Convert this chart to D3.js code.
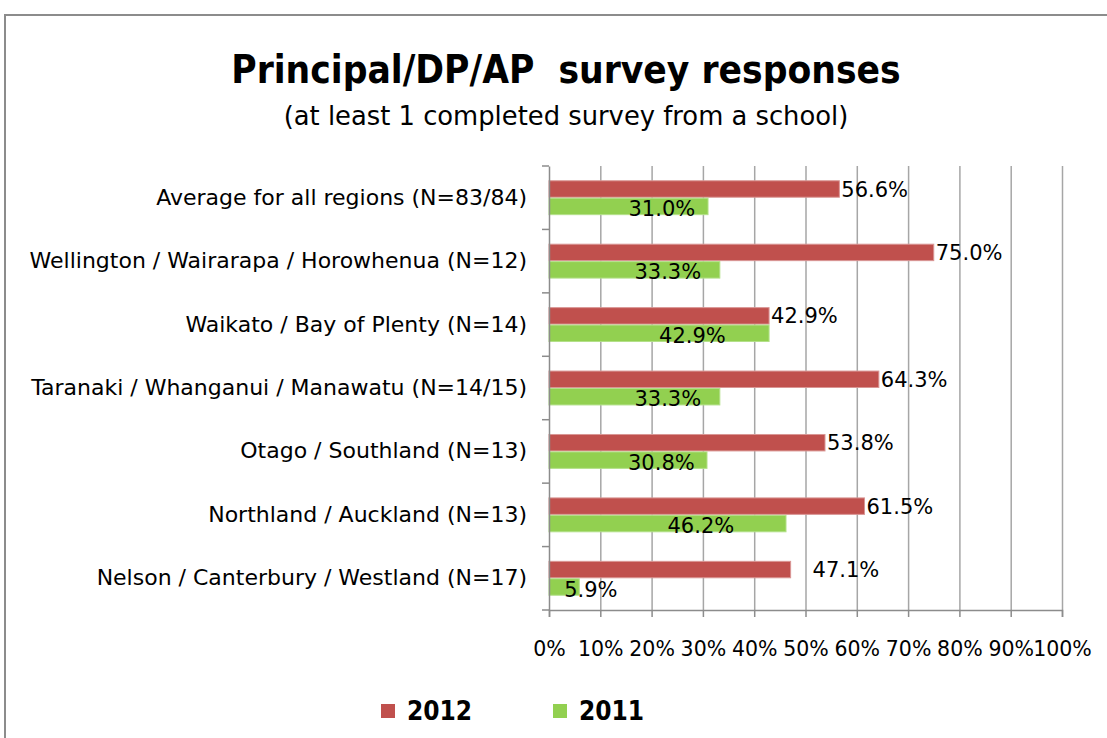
<!DOCTYPE html>
<html>
<head>
<meta charset="utf-8">
<script src="https://cdn.jsdelivr.net/npm/d3@7"></script>
<style>
  body { margin: 0; background: #fff; }
  text { font-family: "DejaVu Sans", sans-serif; fill: #000; }
</style>
</head>
<body>
<div id="chart"></div>
<script>
var categories = [
  "Average for all regions (N=83/84)",
  "Wellington / Wairarapa / Horowhenua (N=12)",
  "Waikato / Bay of Plenty (N=14)",
  "Taranaki / Whanganui / Manawatu (N=14/15)",
  "Otago / Southland (N=13)",
  "Northland / Auckland (N=13)",
  "Nelson / Canterbury / Westland (N=17)"
];
var values2012 = [56.6, 75.0, 42.9, 64.3, 53.8, 61.5, 47.1];
var values2011 = [31.0, 33.3, 42.9, 33.3, 30.8, 46.2, 5.9];
var seriesNames = ["2012", "2011"];
var xTicks = [0, 10, 20, 30, 40, 50, 60, 70, 80, 90, 100];

var colors = { "2012": "#c0504d", "2011": "#92d050" };
var strokes = { "2012": "#d99694", "2011": "#b3e089" };

var width = 1107;
var height = 738;

var margin = {
  top: 166,
  left: 549,
  right: 45,
  bottom: 128
};

var svg = d3.select('#chart')
  .append('svg')
  .attr('width', width)
  .attr('height', height);

// chart frame
svg.append('path')
  .attr('d', 'M5,' + height + 'V15H' + width)
  .attr('fill', 'none')
  .attr('stroke', '#8c8c8c')
  .attr('stroke-width', 2);

svg.append('text')
  .attr('x', 566)
  .attr('y', 83)
  .attr('text-anchor', 'middle')
  .style('white-space', 'pre')
  .style('font-family', '"DejaVu Sans Condensed", "DejaVu Sans", sans-serif')
  .style('font-size', '38.5px')
  .style('font-weight', 'bold')
  .text('Principal/DP/AP  survey responses');

svg.append('text')
  .attr('x', 566)
  .attr('y', 125)
  .attr('text-anchor', 'middle')
  .style('font-size', '25.8px')
  .text('(at least 1 completed survey from a school)');

var w = width - margin.left - margin.right;
var h = height - margin.top - margin.bottom;

var g = svg.append('g')
  .attr('transform', 'translate(' + margin.left + ',' + margin.top + ')');

var x = d3.scaleLinear()
  .domain([0, 100])
  .range([0, w]);

var y = d3.scaleBand()
  .domain(categories)
  .range([0, h])
  .paddingInner(0.45)
  .paddingOuter(0.225);

var ySeries = d3.scaleBand()
  .domain(seriesNames)
  .range([0, y.bandwidth()]);

var step = y.step();

// vertical gridlines
g.append('g')
  .attr('class', 'grid')
  .call(d3.axisBottom(x)
    .tickValues(xTicks.slice(1))
    .tickSize(h)
    .tickFormat(''))
  .call(function(s) {
    s.select('.domain').remove();
    s.selectAll('line').attr('stroke', '#a6a6a6').attr('stroke-width', 1.5);
  });

var rows = categories.map(function(c, i) {
  return { cat: c, v2012: values2012[i], v2011: values2011[i] };
});

var groups = g.selectAll('.row')
  .data(rows)
  .enter()
  .append('g')
  .attr('class', 'row')
  .attr('transform', function(d) {
    return 'translate(0,' + y(d.cat) + ')';
  });

groups.selectAll('rect')
  .data(function(d) {
    return [{ s: "2012", v: d.v2012 }, { s: "2011", v: d.v2011 }];
  })
  .enter()
  .append('rect')
  .attr('x', x(0))
  .attr('y', function(d) { return ySeries(d.s) + 0.5; })
  .attr('width', function(d) { return x(d.v) - x(0); })
  .attr('height', ySeries.bandwidth() - 1)
  .attr('fill', function(d) { return colors[d.s]; })
  .attr('stroke', function(d) { return strokes[d.s]; })
  .attr('stroke-width', 1);

// data labels: 2012 at bar end, 2011 from bar middle
groups.append('text')
  .attr('x', function(d, i) {
    return x(d.v2012) + (i === 6 ? 22 : 2);
  })
  .attr('y', ySeries("2012") + ySeries.bandwidth() / 2)
  .attr('dy', '0.36em')
  .style('font-size', '21px')
  .text(function(d) { return d.v2012.toFixed(1) + '%'; });

groups.append('text')
  .attr('x', function(d) { return (x(0) + x(d.v2011)) / 2; })
  .attr('y', ySeries("2011") + ySeries.bandwidth() / 2 + 2)
  .attr('dy', '0.36em')
  .style('font-size', '21px')
  .text(function(d) { return d.v2011.toFixed(1) + '%'; });

// y axis
var yAxis = g.append('g')
  .call(d3.axisLeft(y).tickSize(0).tickPadding(22));
yAxis.select('.domain').attr('stroke', '#8c8c8c').attr('stroke-width', 1.5);
yAxis.selectAll('text')
  .style('font-size', '22px')
  .style('font-family', '"DejaVu Sans", sans-serif');

// category boundary ticks
g.append('g')
  .selectAll('line')
  .data(d3.range(categories.length + 1))
  .enter()
  .append('line')
  .attr('x1', -7)
  .attr('x2', 0)
  .attr('y1', function(i) { return i * step; })
  .attr('y2', function(i) { return i * step; })
  .attr('stroke', '#8c8c8c')
  .attr('stroke-width', 1.5);

// x axis
var xAxis = g.append('g')
  .attr('transform', 'translate(0,' + h + ')')
  .call(d3.axisBottom(x)
    .tickValues(xTicks)
    .tickSize(7)
    .tickPadding(24)
    .tickFormat(function(d) { return d + '%'; }));
xAxis.select('.domain').attr('stroke', '#8c8c8c').attr('stroke-width', 1.5);
xAxis.selectAll('line').attr('stroke', '#8c8c8c').attr('stroke-width', 1.5);
xAxis.selectAll('text')
  .style('font-size', '20.5px')
  .style('font-family', '"DejaVu Sans", sans-serif');

// legend
var legend = svg.append('g')
  .attr('transform', 'translate(381,704)');

var items = legend.selectAll('.item')
  .data(seriesNames)
  .enter()
  .append('g')
  .attr('class', 'item')
  .attr('transform', function(d, i) {
    return 'translate(' + (i * 172) + ',0)';
  });

items.append('rect')
  .attr('width', 14)
  .attr('height', 14)
  .attr('fill', function(d) { return colors[d]; });

items.append('text')
  .attr('x', 26)
  .attr('y', 7)
  .attr('dy', '0.36em')
  .style('font-family', '"DejaVu Sans Condensed", "DejaVu Sans", sans-serif')
  .style('font-size', '26px')
  .style('font-weight', 'bold')
  .text(function(d) { return d; });
</script>
</body>
</html>
